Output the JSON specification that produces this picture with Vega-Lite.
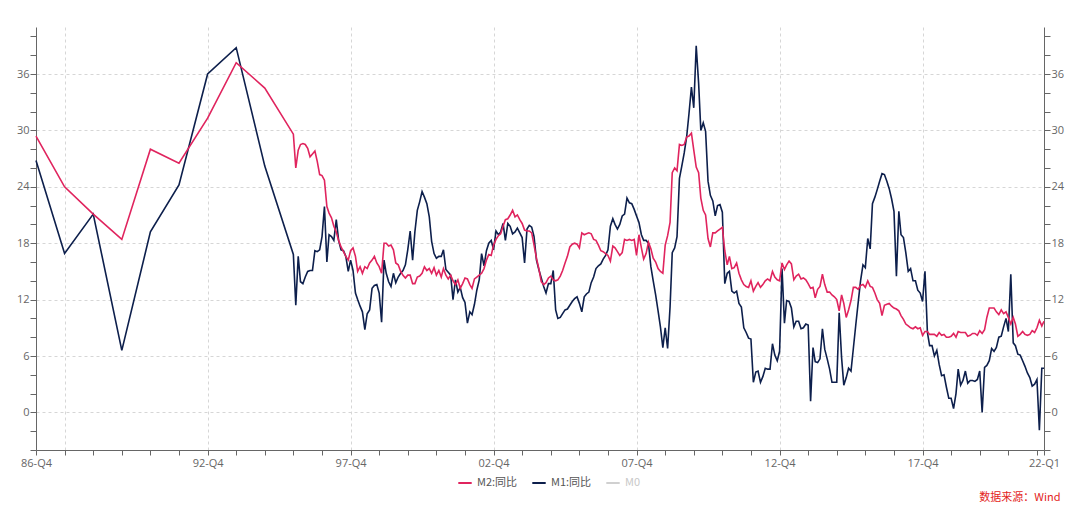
{
"$schema": "https://vega.github.io/schema/vega-lite/v6.json",
"width": 1008, "height": 423,
"autosize": "none",
"padding": {"left": 36, "top": 27, "right": 36, "bottom": 59},
"background": "white",
"config": {"view": {"stroke": null}, "font": "Open Sans"},
"title": {"text": "数据来源：Wind", "orient": "bottom", "anchor": "end", "color": "#e3241b", "fontSize": 11, "fontWeight": "normal", "font": "Noto Sans CJK SC", "offset": 4, "dx": -3},
"data": {"values": [
{"d":"1986-12-01","M2":29.4,"M1":26.8},{"d":"1987-12-01","M2":24.0,"M1":16.9},{"d":"1988-12-01","M2":21.1,"M1":21.1},{"d":"1989-12-01","M2":18.4,"M1":6.6},{"d":"1990-12-01","M2":28.0,"M1":19.2},{"d":"1991-12-01","M2":26.5,"M1":24.2},{"d":"1992-12-01","M2":31.3,"M1":36.0},{"d":"1993-12-01","M2":37.2,"M1":38.8},{"d":"1994-12-01","M2":34.5,"M1":26.2},{"d":"1995-12-01","M2":29.6,"M1":16.8},
{"d":"1996-01-01","M2":26.0,"M1":11.4},{"d":"1996-02-01","M2":27.9,"M1":16.6},{"d":"1996-03-01","M2":28.5,"M1":13.9},{"d":"1996-04-01","M2":28.6,"M1":13.7},{"d":"1996-05-01","M2":28.5,"M1":14.4},{"d":"1996-06-01","M2":28.1,"M1":15.0},{"d":"1996-07-01","M2":27.2,"M1":15.1},{"d":"1996-08-01","M2":27.5,"M1":15.1},{"d":"1996-09-01","M2":27.8,"M1":17.2},{"d":"1996-10-01","M2":26.7,"M1":17.1},{"d":"1996-11-01","M2":25.3,"M1":17.3},{"d":"1996-12-01","M2":25.2,"M1":18.7},
{"d":"1997-01-01","M2":24.7,"M1":21.9},{"d":"1997-02-01","M2":21.9,"M1":16.0},{"d":"1997-03-01","M2":21.2,"M1":18.9},{"d":"1997-04-01","M2":20.7,"M1":18.7},{"d":"1997-05-01","M2":19.8,"M1":18.3},{"d":"1997-06-01","M2":19.2,"M1":20.5},{"d":"1997-07-01","M2":18.3,"M1":18.3},{"d":"1997-08-01","M2":17.6,"M1":17.3},{"d":"1997-09-01","M2":17.1,"M1":17.2},{"d":"1997-10-01","M2":16.6,"M1":16.6},{"d":"1997-11-01","M2":16.2,"M1":15.0},{"d":"1997-12-01","M2":17.2,"M1":16.2},
{"d":"1998-01-01","M2":17.5,"M1":15.1},{"d":"1998-02-01","M2":16.6,"M1":12.7},{"d":"1998-03-01","M2":15.0,"M1":12.0},{"d":"1998-04-01","M2":15.5,"M1":11.3},{"d":"1998-05-01","M2":14.8,"M1":10.7},{"d":"1998-06-01","M2":15.5,"M1":8.8},{"d":"1998-07-01","M2":15.3,"M1":10.5},{"d":"1998-08-01","M2":15.9,"M1":10.9},{"d":"1998-09-01","M2":16.2,"M1":13.2},{"d":"1998-10-01","M2":16.6,"M1":13.5},{"d":"1998-11-01","M2":15.9,"M1":13.6},{"d":"1998-12-01","M2":15.5,"M1":12.7},
{"d":"1999-01-01","M2":14.8,"M1":9.6},{"d":"1999-02-01","M2":18.0,"M1":16.2},{"d":"1999-03-01","M2":18.0,"M1":14.8},{"d":"1999-04-01","M2":17.7,"M1":13.9},{"d":"1999-05-01","M2":17.8,"M1":13.4},{"d":"1999-06-01","M2":17.3,"M1":14.8},{"d":"1999-07-01","M2":15.9,"M1":13.8},{"d":"1999-08-01","M2":15.7,"M1":14.4},{"d":"1999-09-01","M2":15.0,"M1":14.8},{"d":"1999-10-01","M2":14.6,"M1":15.1},{"d":"1999-11-01","M2":14.3,"M1":15.7},{"d":"1999-12-01","M2":14.6,"M1":17.3},
{"d":"2000-01-01","M2":14.6,"M1":19.3},{"d":"2000-02-01","M2":13.7,"M1":16.2},{"d":"2000-03-01","M2":13.7,"M1":19.2},{"d":"2000-04-01","M2":14.4,"M1":21.5},{"d":"2000-05-01","M2":14.5,"M1":22.4},{"d":"2000-06-01","M2":14.8,"M1":23.5},{"d":"2000-07-01","M2":15.5,"M1":22.9},{"d":"2000-08-01","M2":15.1,"M1":22.2},{"d":"2000-09-01","M2":15.3,"M1":20.8},{"d":"2000-10-01","M2":14.8,"M1":18.2},{"d":"2000-11-01","M2":15.4,"M1":16.9},{"d":"2000-12-01","M2":14.6,"M1":16.4},
{"d":"2001-01-01","M2":15.1,"M1":16.6},{"d":"2001-02-01","M2":14.4,"M1":16.6},{"d":"2001-03-01","M2":15.3,"M1":17.3},{"d":"2001-04-01","M2":14.6,"M1":15.2},{"d":"2001-05-01","M2":14.2,"M1":14.9},{"d":"2001-06-01","M2":14.6,"M1":14.6},{"d":"2001-07-01","M2":14.0,"M1":12.0},{"d":"2001-08-01","M2":13.6,"M1":14.1},{"d":"2001-09-01","M2":14.1,"M1":12.8},{"d":"2001-10-01","M2":13.2,"M1":13.3},{"d":"2001-11-01","M2":13.7,"M1":12.2},{"d":"2001-12-01","M2":14.3,"M1":11.7},
{"d":"2002-01-01","M2":14.2,"M1":9.5},{"d":"2002-02-01","M2":13.6,"M1":10.7},{"d":"2002-03-01","M2":13.2,"M1":10.4},{"d":"2002-04-01","M2":14.2,"M1":11.5},{"d":"2002-05-01","M2":14.4,"M1":13.0},{"d":"2002-06-01","M2":14.6,"M1":14.1},{"d":"2002-07-01","M2":14.8,"M1":16.9},{"d":"2002-08-01","M2":15.3,"M1":15.6},{"d":"2002-09-01","M2":16.2,"M1":17.2},{"d":"2002-10-01","M2":16.8,"M1":18.0},{"d":"2002-11-01","M2":16.7,"M1":18.3},{"d":"2002-12-01","M2":17.8,"M1":17.3},
{"d":"2003-01-01","M2":18.4,"M1":19.3},{"d":"2003-02-01","M2":18.8,"M1":18.9},{"d":"2003-03-01","M2":19.0,"M1":19.2},{"d":"2003-04-01","M2":19.8,"M1":20.1},{"d":"2003-05-01","M2":20.5,"M1":18.3},{"d":"2003-06-01","M2":20.6,"M1":20.1},{"d":"2003-07-01","M2":21.0,"M1":19.8},{"d":"2003-08-01","M2":21.5,"M1":19.0},{"d":"2003-09-01","M2":20.8,"M1":19.2},{"d":"2003-10-01","M2":21.0,"M1":19.6},{"d":"2003-11-01","M2":20.5,"M1":19.1},{"d":"2003-12-01","M2":20.1,"M1":18.6},
{"d":"2004-01-01","M2":19.4,"M1":15.9},{"d":"2004-02-01","M2":19.3,"M1":19.5},{"d":"2004-03-01","M2":19.3,"M1":19.9},{"d":"2004-04-01","M2":19.1,"M1":19.7},{"d":"2004-05-01","M2":17.8,"M1":18.7},{"d":"2004-06-01","M2":16.4,"M1":16.2},{"d":"2004-07-01","M2":15.3,"M1":15.2},{"d":"2004-08-01","M2":13.9,"M1":14.3},{"d":"2004-09-01","M2":13.6,"M1":13.4},{"d":"2004-10-01","M2":13.8,"M1":12.7},{"d":"2004-11-01","M2":14.3,"M1":13.7},{"d":"2004-12-01","M2":14.5,"M1":13.7},
{"d":"2005-01-01","M2":14.1,"M1":15.1},{"d":"2005-02-01","M2":14.0,"M1":10.9},{"d":"2005-03-01","M2":14.1,"M1":10.0},{"d":"2005-04-01","M2":14.5,"M1":10.1},{"d":"2005-05-01","M2":15.1,"M1":10.5},{"d":"2005-06-01","M2":15.9,"M1":10.9},{"d":"2005-07-01","M2":16.6,"M1":11.0},{"d":"2005-08-01","M2":17.6,"M1":11.4},{"d":"2005-09-01","M2":17.9,"M1":11.8},{"d":"2005-10-01","M2":18.0,"M1":12.1},{"d":"2005-11-01","M2":17.9,"M1":12.3},{"d":"2005-12-01","M2":17.5,"M1":11.6},
{"d":"2006-01-01","M2":19.1,"M1":10.7},{"d":"2006-02-01","M2":18.9,"M1":12.3},{"d":"2006-03-01","M2":19.0,"M1":12.6},{"d":"2006-04-01","M2":19.1,"M1":12.8},{"d":"2006-05-01","M2":19.0,"M1":13.8},{"d":"2006-06-01","M2":18.4,"M1":14.4},{"d":"2006-07-01","M2":18.3,"M1":15.3},{"d":"2006-08-01","M2":17.8,"M1":15.6},{"d":"2006-09-01","M2":17.2,"M1":15.8},{"d":"2006-10-01","M2":17.1,"M1":16.3},{"d":"2006-11-01","M2":16.9,"M1":16.7},{"d":"2006-12-01","M2":16.7,"M1":17.3},
{"d":"2007-01-01","M2":16.1,"M1":19.8},{"d":"2007-02-01","M2":17.7,"M1":20.6},{"d":"2007-03-01","M2":17.5,"M1":20.0},{"d":"2007-04-01","M2":17.1,"M1":19.5},{"d":"2007-05-01","M2":16.7,"M1":20.0},{"d":"2007-06-01","M2":17.0,"M1":20.9},{"d":"2007-07-01","M2":18.4,"M1":21.1},{"d":"2007-08-01","M2":18.3,"M1":22.8},{"d":"2007-09-01","M2":18.4,"M1":22.3},{"d":"2007-10-01","M2":18.3,"M1":22.2},{"d":"2007-11-01","M2":18.4,"M1":21.6},{"d":"2007-12-01","M2":16.7,"M1":20.9},
{"d":"2008-01-01","M2":18.9,"M1":20.2},{"d":"2008-02-01","M2":17.5,"M1":18.9},{"d":"2008-03-01","M2":16.3,"M1":18.3},{"d":"2008-04-01","M2":16.9,"M1":18.3},{"d":"2008-05-01","M2":18.1,"M1":18.0},{"d":"2008-06-01","M2":17.4,"M1":15.5},{"d":"2008-07-01","M2":16.4,"M1":14.0},{"d":"2008-08-01","M2":16.0,"M1":12.5},{"d":"2008-09-01","M2":15.3,"M1":10.8},{"d":"2008-10-01","M2":15.0,"M1":9.1},{"d":"2008-11-01","M2":14.8,"M1":6.9},{"d":"2008-12-01","M2":17.8,"M1":9.0},
{"d":"2009-01-01","M2":18.8,"M1":6.8},{"d":"2009-02-01","M2":20.2,"M1":11.2},{"d":"2009-03-01","M2":25.5,"M1":17.0},{"d":"2009-04-01","M2":26.0,"M1":17.5},{"d":"2009-05-01","M2":25.7,"M1":18.7},{"d":"2009-06-01","M2":28.5,"M1":24.9},{"d":"2009-07-01","M2":28.4,"M1":26.2},{"d":"2009-08-01","M2":28.5,"M1":27.6},{"d":"2009-09-01","M2":29.3,"M1":29.3},{"d":"2009-10-01","M2":29.4,"M1":31.8},{"d":"2009-11-01","M2":29.7,"M1":34.6},{"d":"2009-12-01","M2":27.9,"M1":32.4},
{"d":"2010-01-01","M2":26.1,"M1":39.0},{"d":"2010-02-01","M2":25.5,"M1":35.0},{"d":"2010-03-01","M2":22.8,"M1":30.0},{"d":"2010-04-01","M2":21.5,"M1":30.8},{"d":"2010-05-01","M2":21.0,"M1":29.9},{"d":"2010-06-01","M2":18.5,"M1":24.6},{"d":"2010-07-01","M2":17.6,"M1":23.1},{"d":"2010-08-01","M2":19.1,"M1":22.5},{"d":"2010-09-01","M2":19.1,"M1":20.9},{"d":"2010-10-01","M2":19.3,"M1":22.0},{"d":"2010-11-01","M2":19.5,"M1":22.1},{"d":"2010-12-01","M2":19.7,"M1":21.3},
{"d":"2011-01-01","M2":17.2,"M1":13.7},{"d":"2011-02-01","M2":15.7,"M1":14.8},{"d":"2011-03-01","M2":16.6,"M1":15.0},{"d":"2011-04-01","M2":15.3,"M1":12.9},{"d":"2011-05-01","M2":15.4,"M1":12.7},{"d":"2011-06-01","M2":15.9,"M1":12.9},{"d":"2011-07-01","M2":14.8,"M1":11.6},{"d":"2011-08-01","M2":14.1,"M1":11.2},{"d":"2011-09-01","M2":13.6,"M1":9.0},{"d":"2011-10-01","M2":13.4,"M1":8.5},{"d":"2011-11-01","M2":13.3,"M1":7.9},{"d":"2011-12-01","M2":14.0,"M1":7.8},
{"d":"2012-01-01","M2":12.9,"M1":3.2},{"d":"2012-02-01","M2":13.4,"M1":4.3},{"d":"2012-03-01","M2":13.8,"M1":4.4},{"d":"2012-04-01","M2":13.3,"M1":3.2},{"d":"2012-05-01","M2":13.6,"M1":3.8},{"d":"2012-06-01","M2":14.0,"M1":4.7},{"d":"2012-07-01","M2":14.2,"M1":4.6},{"d":"2012-08-01","M2":14.0,"M1":4.6},{"d":"2012-09-01","M2":15.0,"M1":7.3},{"d":"2012-10-01","M2":14.4,"M1":6.1},{"d":"2012-11-01","M2":14.1,"M1":5.5},{"d":"2012-12-01","M2":14.0,"M1":6.5},
{"d":"2013-01-01","M2":15.9,"M1":15.3},{"d":"2013-02-01","M2":15.2,"M1":9.5},{"d":"2013-03-01","M2":15.7,"M1":11.9},{"d":"2013-04-01","M2":16.1,"M1":11.8},{"d":"2013-05-01","M2":15.8,"M1":11.1},{"d":"2013-06-01","M2":14.1,"M1":9.1},{"d":"2013-07-01","M2":14.5,"M1":9.7},{"d":"2013-08-01","M2":14.7,"M1":9.7},{"d":"2013-09-01","M2":14.2,"M1":8.9},{"d":"2013-10-01","M2":14.3,"M1":9.0},{"d":"2013-11-01","M2":14.1,"M1":9.4},{"d":"2013-12-01","M2":13.7,"M1":9.3},
{"d":"2014-01-01","M2":13.2,"M1":1.2},{"d":"2014-02-01","M2":13.3,"M1":6.9},{"d":"2014-03-01","M2":12.2,"M1":5.4},{"d":"2014-04-01","M2":13.1,"M1":5.3},{"d":"2014-05-01","M2":13.4,"M1":5.7},{"d":"2014-06-01","M2":14.7,"M1":8.9},{"d":"2014-07-01","M2":13.6,"M1":6.7},{"d":"2014-08-01","M2":12.8,"M1":5.7},{"d":"2014-09-01","M2":12.8,"M1":4.6},{"d":"2014-10-01","M2":12.5,"M1":3.2},{"d":"2014-11-01","M2":12.3,"M1":3.2},{"d":"2014-12-01","M2":12.0,"M1":3.2},
{"d":"2015-01-01","M2":10.8,"M1":10.6},{"d":"2015-02-01","M2":12.5,"M1":5.8},{"d":"2015-03-01","M2":11.6,"M1":2.9},{"d":"2015-04-01","M2":10.1,"M1":3.7},{"d":"2015-05-01","M2":10.9,"M1":4.7},{"d":"2015-06-01","M2":11.9,"M1":4.4},{"d":"2015-07-01","M2":13.3,"M1":6.8},{"d":"2015-08-01","M2":13.3,"M1":9.3},{"d":"2015-09-01","M2":13.1,"M1":11.7},{"d":"2015-10-01","M2":13.5,"M1":14.0},{"d":"2015-11-01","M2":13.6,"M1":15.7},{"d":"2015-12-01","M2":13.3,"M1":15.4},
{"d":"2016-01-01","M2":14.0,"M1":18.5},{"d":"2016-02-01","M2":13.4,"M1":17.4},{"d":"2016-03-01","M2":13.3,"M1":22.2},{"d":"2016-04-01","M2":12.7,"M1":22.9},{"d":"2016-05-01","M2":12.0,"M1":23.7},{"d":"2016-06-01","M2":11.6,"M1":24.6},{"d":"2016-07-01","M2":10.3,"M1":25.4},{"d":"2016-08-01","M2":11.4,"M1":25.3},{"d":"2016-09-01","M2":11.5,"M1":24.6},{"d":"2016-10-01","M2":11.6,"M1":23.8},{"d":"2016-11-01","M2":11.3,"M1":22.7},{"d":"2016-12-01","M2":11.1,"M1":21.4},
{"d":"2017-01-01","M2":11.0,"M1":14.5},{"d":"2017-02-01","M2":10.8,"M1":21.4},{"d":"2017-03-01","M2":10.3,"M1":18.9},{"d":"2017-04-01","M2":9.9,"M1":18.6},{"d":"2017-05-01","M2":9.4,"M1":17.0},{"d":"2017-06-01","M2":9.2,"M1":15.0},{"d":"2017-07-01","M2":9.0,"M1":15.3},{"d":"2017-08-01","M2":8.9,"M1":14.0},{"d":"2017-09-01","M2":9.1,"M1":14.0},{"d":"2017-10-01","M2":8.9,"M1":13.0},{"d":"2017-11-01","M2":9.0,"M1":12.7},{"d":"2017-12-01","M2":8.2,"M1":11.8},
{"d":"2018-01-01","M2":8.6,"M1":15.0},{"d":"2018-02-01","M2":8.6,"M1":8.5},{"d":"2018-03-01","M2":8.3,"M1":7.1},{"d":"2018-04-01","M2":8.3,"M1":7.1},{"d":"2018-05-01","M2":8.3,"M1":6.0},{"d":"2018-06-01","M2":8.1,"M1":6.6},{"d":"2018-07-01","M2":8.5,"M1":5.1},{"d":"2018-08-01","M2":8.2,"M1":3.9},{"d":"2018-09-01","M2":8.3,"M1":4.0},{"d":"2018-10-01","M2":8.0,"M1":2.7},{"d":"2018-11-01","M2":8.0,"M1":1.5},{"d":"2018-12-01","M2":8.1,"M1":1.5},
{"d":"2019-01-01","M2":8.4,"M1":0.4},{"d":"2019-02-01","M2":8.0,"M1":2.0},{"d":"2019-03-01","M2":8.6,"M1":4.6},{"d":"2019-04-01","M2":8.5,"M1":2.9},{"d":"2019-05-01","M2":8.5,"M1":3.4},{"d":"2019-06-01","M2":8.5,"M1":4.4},{"d":"2019-07-01","M2":8.1,"M1":3.1},{"d":"2019-08-01","M2":8.2,"M1":3.4},{"d":"2019-09-01","M2":8.4,"M1":3.4},{"d":"2019-10-01","M2":8.4,"M1":3.3},{"d":"2019-11-01","M2":8.2,"M1":3.5},{"d":"2019-12-01","M2":8.7,"M1":4.4},
{"d":"2020-01-01","M2":8.4,"M1":0.0},{"d":"2020-02-01","M2":8.8,"M1":4.8},{"d":"2020-03-01","M2":10.1,"M1":5.0},{"d":"2020-04-01","M2":11.1,"M1":5.5},{"d":"2020-05-01","M2":11.1,"M1":6.8},{"d":"2020-06-01","M2":11.1,"M1":6.5},{"d":"2020-07-01","M2":10.7,"M1":6.9},{"d":"2020-08-01","M2":10.4,"M1":8.0},{"d":"2020-09-01","M2":10.9,"M1":8.1},{"d":"2020-10-01","M2":10.5,"M1":9.1},{"d":"2020-11-01","M2":10.7,"M1":10.0},{"d":"2020-12-01","M2":10.1,"M1":8.6},
{"d":"2021-01-01","M2":9.4,"M1":14.7},{"d":"2021-02-01","M2":10.1,"M1":7.4},{"d":"2021-03-01","M2":9.4,"M1":7.1},{"d":"2021-04-01","M2":8.1,"M1":6.2},{"d":"2021-05-01","M2":8.3,"M1":6.1},{"d":"2021-06-01","M2":8.6,"M1":5.5},{"d":"2021-07-01","M2":8.3,"M1":4.9},{"d":"2021-08-01","M2":8.2,"M1":4.2},{"d":"2021-09-01","M2":8.3,"M1":3.7},{"d":"2021-10-01","M2":8.7,"M1":2.8},{"d":"2021-11-01","M2":8.5,"M1":3.0},{"d":"2021-12-01","M2":9.0,"M1":3.5},
{"d":"2022-01-01","M2":9.8,"M1":-1.9},{"d":"2022-02-01","M2":9.2,"M1":4.7},{"d":"2022-03-01","M2":9.7,"M1":4.7}
]},
"transform": [{"fold": ["M2", "M1"], "as": ["s", "v"]}],
"encoding": {
  "x": {"field": "d", "type": "temporal",
    "scale": {"type": "utc", "domain": [{"year": 1986, "month": 12, "date": 1, "utc": true}, {"year": 2022, "month": 3, "date": 1, "utc": true}]},
    "axis": {"title": null,
      "values": [{"year":1986,"month":12,"date":1,"utc":true},{"year":1987,"month":12,"date":1,"utc":true},{"year":1988,"month":12,"date":1,"utc":true},{"year":1989,"month":12,"date":1,"utc":true},{"year":1990,"month":12,"date":1,"utc":true},{"year":1991,"month":12,"date":1,"utc":true},{"year":1992,"month":12,"date":1,"utc":true},{"year":1993,"month":12,"date":1,"utc":true},{"year":1994,"month":12,"date":1,"utc":true},{"year":1995,"month":12,"date":1,"utc":true},{"year":1996,"month":12,"date":1,"utc":true},{"year":1997,"month":12,"date":1,"utc":true},{"year":1998,"month":12,"date":1,"utc":true},{"year":1999,"month":12,"date":1,"utc":true},{"year":2000,"month":12,"date":1,"utc":true},{"year":2001,"month":12,"date":1,"utc":true},{"year":2002,"month":12,"date":1,"utc":true},{"year":2003,"month":12,"date":1,"utc":true},{"year":2004,"month":12,"date":1,"utc":true},{"year":2005,"month":12,"date":1,"utc":true},{"year":2006,"month":12,"date":1,"utc":true},{"year":2007,"month":12,"date":1,"utc":true},{"year":2008,"month":12,"date":1,"utc":true},{"year":2009,"month":12,"date":1,"utc":true},{"year":2010,"month":12,"date":1,"utc":true},{"year":2011,"month":12,"date":1,"utc":true},{"year":2012,"month":12,"date":1,"utc":true},{"year":2013,"month":12,"date":1,"utc":true},{"year":2014,"month":12,"date":1,"utc":true},{"year":2015,"month":12,"date":1,"utc":true},{"year":2016,"month":12,"date":1,"utc":true},{"year":2017,"month":12,"date":1,"utc":true},{"year":2018,"month":12,"date":1,"utc":true},{"year":2019,"month":12,"date":1,"utc":true},{"year":2020,"month":12,"date":1,"utc":true},{"year":2021,"month":12,"date":1,"utc":true},{"year":2022,"month":3,"date":1,"utc":true}],
      "labelExpr": "(utcmonth(datum.value) == 2 || indexof([1986,1992,1997,2002,2007,2012,2017], utcyear(datum.value)) >= 0) ? (utcFormat(datum.value, '%y') + '-Q' + (floor(utcmonth(datum.value) / 3) + 1)) : ''",
      "labelOverlap": false, "labelFlush": false, "labelBound": false,
      "grid": true, "gridDash": [3, 3], "gridColor": "#d6d6d6",
      "gridOpacity": {"condition": {"test": "utcmonth(datum.value) == 11 && indexof([1987,1992,1997,2002,2007,2012,2017], utcyear(datum.value)) >= 0", "value": 1}, "value": 0},
      "domainColor": "#666666", "tickColor": "#666666", "tickSize": 5,
      "labelColor": "#666666", "labelFontSize": 11, "labelPadding": 2, "labelFont": "Open Sans"}},
  "color": {"field": "s", "type": "nominal",
    "scale": {"domain": ["M2", "M1", "M0"], "range": ["#e0245e", "#0d1f4c", "#d0d0d0"]},
    "legend": {"orient": "none", "legendX": 421, "legendY": 448, "direction": "horizontal", "title": null,
      "symbolType": "stroke", "symbolStrokeWidth": 2, "symbolSize": 180,
      "labelExpr": "datum.value == 'M0' ? 'M0' : datum.value + ':同比'",
      "labelFont": "Noto Sans CJK SC", "labelFontSize": 11, "labelColor": "#555555", "columnPadding": 10,
      "encode": {"labels": {"update": {"fill": {"signal": "datum.value == 'M0' ? '#c8c8c8' : '#555555'"}}}}}}
},
"layer": [
  {"transform": [{"filter": "datum.s == 'M1'"}],
   "mark": {"type": "line", "strokeWidth": 1.6},
   "encoding": {"y": {"field": "v", "type": "quantitative", "scale": {"domain": [-4, 41], "nice": false, "zero": false},
     "axis": {"title": null, "orient": "left", "values": [-4,-2,0,2,4,6,8,10,12,14,16,18,20,22,24,26,28,30,32,34,36,38,40],
       "labelExpr": "datum.value % 6 == 0 ? datum.label : ''", "labelOverlap": false,
       "grid": true, "gridDash": [3, 3], "gridColor": "#d6d6d6",
       "gridOpacity": {"condition": {"test": "datum.value % 6 == 0", "value": 1}, "value": 0},
       "domainColor": "#666666", "tickColor": "#666666", "tickSize": 6,
       "labelColor": "#666666", "labelFontSize": 11, "labelPadding": 1, "labelFont": "Open Sans"}}}},
  {"transform": [{"filter": "datum.s == 'M2'"}],
   "mark": {"type": "line", "strokeWidth": 1.6},
   "encoding": {"y": {"field": "v", "type": "quantitative", "scale": {"domain": [-4, 41], "nice": false, "zero": false},
     "axis": {"title": null, "orient": "right", "values": [-4,-2,0,2,4,6,8,10,12,14,16,18,20,22,24,26,28,30,32,34,36,38,40],
       "labelExpr": "datum.value % 6 == 0 ? datum.label : ''", "labelOverlap": false, "grid": false,
       "domainColor": "#666666", "tickColor": "#666666", "tickSize": 6,
       "labelColor": "#666666", "labelFontSize": 11, "labelPadding": 1, "labelFont": "Open Sans"}}}}
],
"resolve": {"axis": {"y": "independent"}}
}
